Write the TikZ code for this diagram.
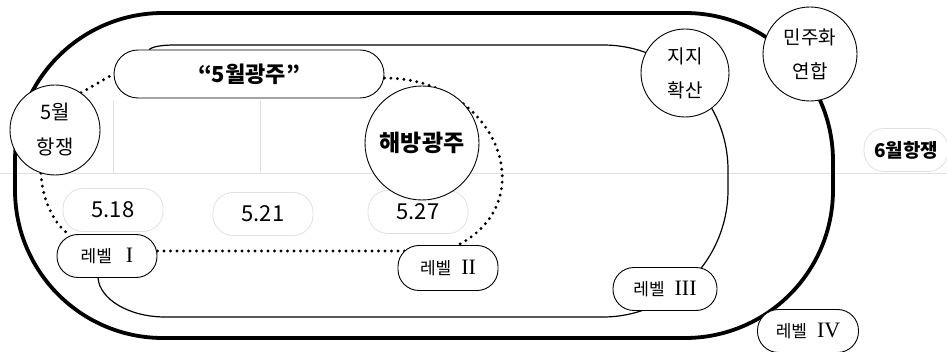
\documentclass[tikz,border=0pt]{standalone}
\usepackage{fontspec}
\setmainfont{Noto Sans CJK KR}
\newfontfamily\romanfont{Liberation Serif}
\usetikzlibrary{backgrounds}
\begin{document}
\begin{tikzpicture}[x=1pt,y=-1pt,
    circ/.style={circle, draw, fill=white, line width=0.9pt, inner sep=0pt, align=center, font=\fontsize{19}{34}\selectfont},
    pill/.style={rectangle, rounded corners=21pt, draw, fill=white, line width=0.9pt, minimum width=100pt, minimum height=43pt, font=\fontsize{17}{19}\selectfont},
    faint/.style={rectangle, rounded corners=20pt, draw=black!12, line width=0.8pt, minimum width=100pt, minimum height=43pt, font=\fontsize{22}{24}\selectfont},
    dotline/.style={line width=3.2pt, line cap=round, dash pattern=on 0pt off 6.5pt},
    outerline/.style={line width=3.8pt, rounded corners=148pt},
    innerline/.style={line width=1.2pt},
    scanline/.style={black!12, line width=0.6pt}]
    \newcommand\numeral[1]{{\romanfont\fontsize{22}{24}\selectfont #1}}
    \useasboundingbox (0,0) rectangle (947,352);
    \node[faint] (d518) at (113,210) {5.18};
    \node[faint] (d521) at (263,214) {5.21};
    \node[faint] (d527) at (418,212) {5.27};
    \node[faint, minimum width=84pt, font=\fontsize{19}{21}\selectfont\bfseries] (june) at (906,150) {6월항쟁};
    \node[circ, minimum size=90pt, font=\fontsize{20}{35}\selectfont] (hang5) at (55,130) {5월\\항쟁};
    \node[pill, minimum width=270pt, minimum height=48pt, rounded corners=24pt, font=\fontsize{22}{24}\selectfont\bfseries] (gj5) at (249,74) {“5월광주”};
    \node[circ, minimum size=114pt, font=\fontsize{23}{25}\selectfont\bfseries] (free) at (422,143) {해방광주};
    \node[circ, minimum size=88pt] (jiji) at (685,73) {지지\\확산};
    \node[circ, minimum size=94pt] (minju) at (810,54) {민주화\\연합};
    \node[pill] (lvl1) at (107,256) {레벨\hspace{14pt}\numeral{I}};
    \node[pill, minimum height=45pt] (lvl2) at (448,268) {레벨\hspace{10pt}\numeral{II}};
    \node[pill, minimum width=104pt] (lvl3) at (665,289) {레벨\hspace{10pt}\numeral{III}};
    \node[pill, minimum width=101pt] (lvl4) at (808,331) {레벨\hspace{10pt}\numeral{IV}};
    \begin{scope}[on background layer]
        \draw[scanline] (0,173) -- (947,173);
        \draw[scanline] (113,100) -- (113,173);
        \draw[scanline] (260,100) -- (260,173);
        \draw[outerline] (15,13) rectangle (833,338);
        \draw[innerline] ([xshift=-9pt]lvl1.south) .. controls (100,300) and (130,317) .. (165,317) -- (603,317)
            .. controls (672,317) and (728,259) .. (728,190) -- (728,170)
            .. controls (728,101) and (672,45) .. (603,45) -- (175,45)
            .. controls (160,45) and (152,47) .. ([xshift=-100pt]gj5.north);
        \draw[dotline] (hang5.55) -- (gj5.west);
        \draw[dotline] ([yshift=-4pt]gj5.east) .. controls (495,78) and (545,200) .. ([xshift=10pt]lvl2.north);
        \draw[dotline] ([yshift=5pt]lvl1.east) -- ([yshift=5pt]lvl1.east -| lvl2.center);
        \draw[dotline] (hang5.252) .. controls (42,200) and (55,225) .. ([xshift=12pt]lvl1.north west);
    \end{scope}
\end{tikzpicture}
\end{document}
